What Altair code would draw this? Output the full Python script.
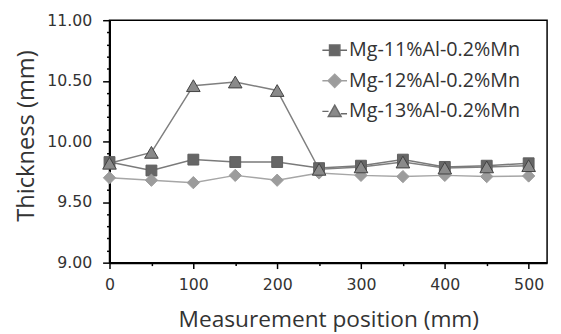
import altair as alt
import pandas as pd
import numpy as np

positions = [0, 50, 100, 150, 200, 250, 300, 350, 400, 450, 500]
series_names = ["Mg-11%Al-0.2%Mn", "Mg-12%Al-0.2%Mn", "Mg-13%Al-0.2%Mn"]
mg11 = [9.83, 9.76, 9.85, 9.83, 9.83, 9.78, 9.80, 9.85, 9.79, 9.80, 9.82]
mg12 = [9.70, 9.68, 9.66, 9.72, 9.68, 9.74, 9.72, 9.71, 9.72, 9.71, 9.715]
mg13 = [9.82, 9.91, 10.46, 10.49, 10.42, 9.77, 9.79, 9.83, 9.78, 9.79, 9.80]

y_ticks = [round(v, 1) for v in np.arange(9.0, 11.01, 0.1)]
x_ticks = positions

rows = []
for name, vals in zip(series_names, [mg11, mg12, mg13]):
    for p, v in zip(positions, vals):
        rows.append({"pos": p, "thick": v, "series": name})
df = pd.DataFrame(rows)

line_colors = ["#7a7a7a", "#a6a6a6", "#7f7f7f"]
fill_colors = ["#666666", "#9c9c9c", "#8a8a8a"]
stroke_colors = ["#5e5e5e", "#9a9a9a", "#404040"]
shapes = ["square", "diamond", "triangle-up"]
marker_sizes = [121, 190, 175]
legend_paths = [
    "M-1,0H-0.42M0.42,0H1M-0.42,-0.42H0.42V0.42H-0.42Z",
    "M-1,0H-0.54M0.54,0H1M0,-0.54L0.54,0L0,0.54L-0.54,0Z",
    "M-1,0H-0.5M0.5,0.2H1M0,-0.5L0.52,0.42L-0.52,0.42Z",
]
legend_strokes = ["#6a6a6a", "#a0a0a0", "#6a6a6a"]

leg = alt.Legend(
    title=None,
    orient="none",
    legendX=215,
    legendY=17,
    symbolSize=625,
    symbolStrokeWidth=1.5,
    symbolOpacity=1,
    labelFont="Open Sans",
    labelFontSize=20,
    labelColor="#333333",
    labelOffset=1,
    labelLimit=300,
    rowPadding=7,
    padding=0,
)

major_x = "datum.value % 100 === 0"
major_y = "abs(datum.value*2 - round(datum.value*2)) < 0.001"

x_enc = alt.X(
    "pos:Q",
    scale=alt.Scale(domain=[0, 522], nice=False),
    axis=alt.Axis(
        title="Measurement position (mm)",
        values=x_ticks,
        labelExpr=f"{major_x} ? datum.label : ''",
        tickSize={"condition": {"test": major_x, "value": 6}, "value": 3},
        labelPadding=8,
        labelFlush=False,
        titleY=65,
        titleBaseline="alphabetic",
        titleFontSize=23,
    ),
)
y_enc = alt.Y(
    "thick:Q",
    scale=alt.Scale(domain=[9, 11], nice=False),
    axis=alt.Axis(
        title="Thickness (mm)",
        values=y_ticks,
        labelExpr=f"{major_y} ? format(datum.value, '.2f') : ''",
        tickSize={"condition": {"test": major_y, "value": 7}, "value": 3},
        labelPadding=11,
        labelFlush=False,
        titleX=-84,
        titleY=117,
        titleBaseline="middle",
        titleFontSize=24,
    ),
)

base = alt.Chart(df)

lines = base.mark_line(strokeWidth=1.5).encode(
    x=x_enc,
    y=y_enc,
    color=alt.Color("series:N", scale=alt.Scale(domain=series_names, range=line_colors), legend=None),
    detail="series:N",
)

points = base.mark_point(filled=True, strokeWidth=1, opacity=1).encode(
    x=x_enc,
    y=y_enc,
    fill=alt.Fill("series:N", scale=alt.Scale(domain=series_names, range=fill_colors), legend=None),
    stroke=alt.Stroke("series:N", scale=alt.Scale(domain=series_names, range=stroke_colors), legend=None),
    shape=alt.Shape("series:N", scale=alt.Scale(domain=series_names, range=shapes), legend=None),
    size=alt.Size("series:N", scale=alt.Scale(domain=series_names, range=marker_sizes), legend=None),
    order=alt.Order("series:N"),
)

legend_layer = base.mark_point(filled=True, opacity=0).encode(
    x=x_enc,
    y=y_enc,
    fill=alt.Fill("series:N", scale=alt.Scale(domain=series_names, range=fill_colors), legend=leg),
    stroke=alt.Stroke("series:N", scale=alt.Scale(domain=series_names, range=legend_strokes), legend=leg),
    shape=alt.Shape("series:N", scale=alt.Scale(domain=series_names, range=legend_paths), legend=leg),
)

chart = (
    alt.layer(lines, points, legend_layer)
    .resolve_scale(shape="independent", fill="independent", stroke="independent", size="independent")
    .properties(
        width=444,
        height=246,
        autosize=alt.AutoSizeParams(type="none"),
        padding={"left": 103, "top": 10, "right": 6, "bottom": 70},
        background="white",
    )
    .configure_view(stroke="black", strokeWidth=1.5)
    .configure_axis(
        grid=False,
        domainColor="black",
        domainWidth=2,
        tickColor="black",
        tickWidth=1.5,
        labelFont="DejaVu Sans",
        labelFontSize=16,
        labelColor="#333333",
        titleFont="Open Sans",
        titleFontWeight="normal",
        titleColor="#333333",
    )
)

chart.save("out.html", embed_options={"renderer": "svg", "actions": False})
